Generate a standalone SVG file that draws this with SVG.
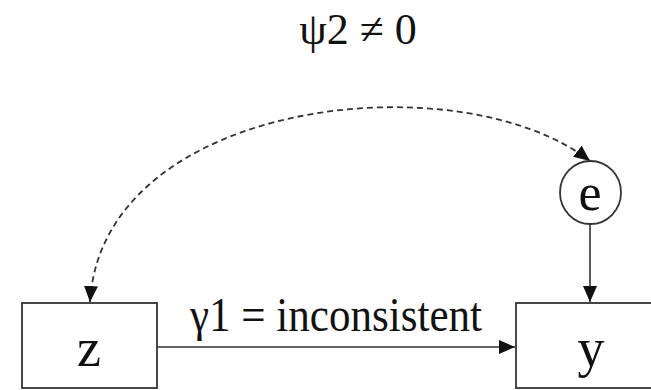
<svg xmlns="http://www.w3.org/2000/svg" width="651" height="390" viewBox="0 0 651 390">
<style>
.t{font-family:"Liberation Serif","Times New Roman",serif;fill:#111;}
.box{fill:#fff;stroke:#333;stroke-width:1.8;}
.ln{fill:none;stroke:#333;stroke-width:1.6;}
.dash{fill:none;stroke:#333;stroke-width:1.8;stroke-dasharray:6 4;}
</style>
<defs>
<marker id="ah" viewBox="0 0 16 14" refX="16" refY="7" markerWidth="16" markerHeight="14" markerUnits="userSpaceOnUse" orient="auto-start-reverse">
<path d="M0,0 L16,7 L0,14 Z" fill="#111"/>
</marker>
</defs>
<rect width="651" height="390" fill="#fff"/>
<text class="t" x="358" y="44" font-size="44" text-anchor="middle">ψ2 ≠ 0</text>
<g id="connectors">
<path class="dash" d="M90,302 C102,98 460,60 590,161" marker-start="url(#ah)" marker-end="url(#ah)"/>
<line class="ln" x1="590" y1="224" x2="590" y2="302" marker-end="url(#ah)"/>
<line class="ln" x1="157" y1="347" x2="515" y2="347" marker-end="url(#ah)"/>
<text class="t" x="190" y="331" font-size="48" textLength="292" lengthAdjust="spacingAndGlyphs">γ1 = inconsistent</text>
</g>
<g id="node-z">
<rect class="box" x="22" y="303" width="135" height="85"/>
<text class="t" x="89" y="366" font-size="54" text-anchor="middle">z</text>
</g>
<g id="node-y">
<rect class="box" x="516" y="303" width="200" height="85"/>
<text class="t" x="591" y="366" font-size="54" text-anchor="middle">y</text>
</g>
<g id="node-e">
<ellipse class="box" cx="590.5" cy="192.5" rx="30.5" ry="31.5"/>
<text class="t" x="590" y="210" font-size="52" text-anchor="middle">e</text>
</g>
</svg>
